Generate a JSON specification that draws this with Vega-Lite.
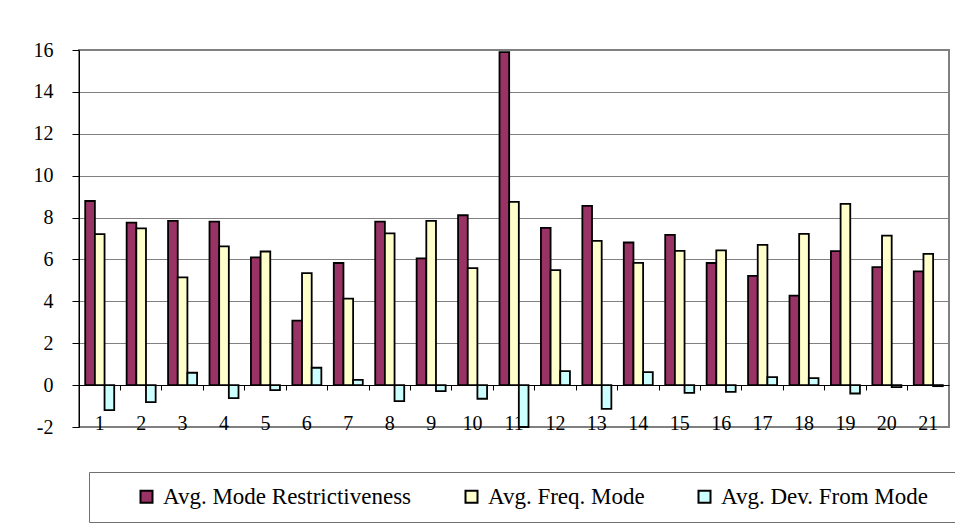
{
  "$schema": "https://vega.github.io/schema/vega-lite/v6.json",
  "width": 870,
  "height": 377,
  "autosize": "none",
  "padding": {"left": 79, "top": 50, "right": 6, "bottom": 98},
  "background": "white",
  "config": {
    "font": "Liberation Serif",
    "view": {"stroke": "#808080", "strokeWidth": 2},
    "axis": {"labelFont": "Liberation Serif"},
    "legend": {"labelFont": "Liberation Serif", "titleFont": "Liberation Serif"}
  },
  "data": {"values": [
    {"cat": 1, "series": "Avg. Mode Restrictiveness", "value": 8.79},
    {"cat": 1, "series": "Avg. Freq. Mode", "value": 7.21},
    {"cat": 1, "series": "Avg. Dev. From Mode", "value": -1.19},
    {"cat": 2, "series": "Avg. Mode Restrictiveness", "value": 7.76},
    {"cat": 2, "series": "Avg. Freq. Mode", "value": 7.48},
    {"cat": 2, "series": "Avg. Dev. From Mode", "value": -0.81},
    {"cat": 3, "series": "Avg. Mode Restrictiveness", "value": 7.84},
    {"cat": 3, "series": "Avg. Freq. Mode", "value": 5.14},
    {"cat": 3, "series": "Avg. Dev. From Mode", "value": 0.59},
    {"cat": 4, "series": "Avg. Mode Restrictiveness", "value": 7.81},
    {"cat": 4, "series": "Avg. Freq. Mode", "value": 6.62},
    {"cat": 4, "series": "Avg. Dev. From Mode", "value": -0.62},
    {"cat": 5, "series": "Avg. Mode Restrictiveness", "value": 6.10},
    {"cat": 5, "series": "Avg. Freq. Mode", "value": 6.38},
    {"cat": 5, "series": "Avg. Dev. From Mode", "value": -0.24},
    {"cat": 6, "series": "Avg. Mode Restrictiveness", "value": 3.08},
    {"cat": 6, "series": "Avg. Freq. Mode", "value": 5.35},
    {"cat": 6, "series": "Avg. Dev. From Mode", "value": 0.83},
    {"cat": 7, "series": "Avg. Mode Restrictiveness", "value": 5.83},
    {"cat": 7, "series": "Avg. Freq. Mode", "value": 4.13},
    {"cat": 7, "series": "Avg. Dev. From Mode", "value": 0.25},
    {"cat": 8, "series": "Avg. Mode Restrictiveness", "value": 7.81},
    {"cat": 8, "series": "Avg. Freq. Mode", "value": 7.24},
    {"cat": 8, "series": "Avg. Dev. From Mode", "value": -0.76},
    {"cat": 9, "series": "Avg. Mode Restrictiveness", "value": 6.05},
    {"cat": 9, "series": "Avg. Freq. Mode", "value": 7.84},
    {"cat": 9, "series": "Avg. Dev. From Mode", "value": -0.29},
    {"cat": 10, "series": "Avg. Mode Restrictiveness", "value": 8.11},
    {"cat": 10, "series": "Avg. Freq. Mode", "value": 5.59},
    {"cat": 10, "series": "Avg. Dev. From Mode", "value": -0.65},
    {"cat": 11, "series": "Avg. Mode Restrictiveness", "value": 15.9},
    {"cat": 11, "series": "Avg. Freq. Mode", "value": 8.75},
    {"cat": 11, "series": "Avg. Dev. From Mode", "value": -2.0},
    {"cat": 12, "series": "Avg. Mode Restrictiveness", "value": 7.51},
    {"cat": 12, "series": "Avg. Freq. Mode", "value": 5.49},
    {"cat": 12, "series": "Avg. Dev. From Mode", "value": 0.67},
    {"cat": 13, "series": "Avg. Mode Restrictiveness", "value": 8.56},
    {"cat": 13, "series": "Avg. Freq. Mode", "value": 6.89},
    {"cat": 13, "series": "Avg. Dev. From Mode", "value": -1.13},
    {"cat": 14, "series": "Avg. Mode Restrictiveness", "value": 6.81},
    {"cat": 14, "series": "Avg. Freq. Mode", "value": 5.84},
    {"cat": 14, "series": "Avg. Dev. From Mode", "value": 0.62},
    {"cat": 15, "series": "Avg. Mode Restrictiveness", "value": 7.17},
    {"cat": 15, "series": "Avg. Freq. Mode", "value": 6.41},
    {"cat": 15, "series": "Avg. Dev. From Mode", "value": -0.37},
    {"cat": 16, "series": "Avg. Mode Restrictiveness", "value": 5.83},
    {"cat": 16, "series": "Avg. Freq. Mode", "value": 6.43},
    {"cat": 16, "series": "Avg. Dev. From Mode", "value": -0.32},
    {"cat": 17, "series": "Avg. Mode Restrictiveness", "value": 5.22},
    {"cat": 17, "series": "Avg. Freq. Mode", "value": 6.70},
    {"cat": 17, "series": "Avg. Dev. From Mode", "value": 0.38},
    {"cat": 18, "series": "Avg. Mode Restrictiveness", "value": 4.27},
    {"cat": 18, "series": "Avg. Freq. Mode", "value": 7.22},
    {"cat": 18, "series": "Avg. Dev. From Mode", "value": 0.33},
    {"cat": 19, "series": "Avg. Mode Restrictiveness", "value": 6.40},
    {"cat": 19, "series": "Avg. Freq. Mode", "value": 8.65},
    {"cat": 19, "series": "Avg. Dev. From Mode", "value": -0.40},
    {"cat": 20, "series": "Avg. Mode Restrictiveness", "value": 5.63},
    {"cat": 20, "series": "Avg. Freq. Mode", "value": 7.14},
    {"cat": 20, "series": "Avg. Dev. From Mode", "value": -0.1},
    {"cat": 21, "series": "Avg. Mode Restrictiveness", "value": 5.43},
    {"cat": 21, "series": "Avg. Freq. Mode", "value": 6.27},
    {"cat": 21, "series": "Avg. Dev. From Mode", "value": -0.05}
  ]},
  "layer": [
    {
      "mark": {"type": "bar", "stroke": "black", "strokeWidth": 1.8},
      "encoding": {
        "x": {
          "field": "cat", "type": "ordinal",
          "scale": {"paddingInner": 0.3, "paddingOuter": 0.15},
          "axis": {"orient": "bottom", "title": null, "labelAngle": 0, "domain": false, "ticks": false, "tickSize": 0,
                   "labelFontSize": 20, "labelColor": "black", "labelPadding": -14, "grid": false}
        },
        "xOffset": {
          "field": "series", "type": "nominal",
          "sort": ["Avg. Mode Restrictiveness", "Avg. Freq. Mode", "Avg. Dev. From Mode"],
          "scale": {"paddingInner": 0, "paddingOuter": 0}
        },
        "y": {
          "field": "value", "type": "quantitative",
          "scale": {"domain": [-2, 16], "nice": false, "zero": false},
          "axis": {"title": null, "values": [-2, 0, 2, 4, 6, 8, 10, 12, 14, 16], "labelExpr": "'' + datum.value",
                   "grid": true, "gridColor": "#808080", "gridWidth": 1, "domainColor": "black", "tickColor": "black",
                   "tickSize": 7, "labelFontSize": 20, "labelColor": "black", "labelPadding": 19}
        },
        "color": {
          "field": "series", "type": "nominal",
          "scale": {"domain": ["Avg. Mode Restrictiveness", "Avg. Freq. Mode", "Avg. Dev. From Mode"],
                    "range": ["#993366", "#FFFFCC", "#CCFFFF"]},
          "legend": {
            "orient": "none", "legendX": 10, "legendY": 422, "direction": "horizontal",
            "title": " ", "titleOrient": "right", "titlePadding": 19, "titleFontSize": 23,
            "strokeColor": "#707070", "padding": 13,
            "labelFontSize": 23, "labelColor": "black", "labelLimit": 0,
            "symbolType": "square", "symbolSize": 144, "symbolStrokeColor": "black",
            "symbolStrokeWidth": 2, "symbolOpacity": 1, "symbolOffset": 33,
            "columnPadding": 15, "labelOffset": 5
          }
        }
      }
    },
    {
      "mark": {"type": "bar", "opacity": 0},
      "encoding": {
        "x": {
          "field": "cat", "type": "ordinal",
          "axis": {"orient": "bottom", "title": null, "labels": false, "offset": -42, "domainColor": "black", "domainWidth": 1,
                   "tickColor": "black", "tickSize": 5, "bandPosition": -0.214, "grid": false}
        }
      }
    }
  ],
  "resolve": {"axis": {"x": "independent"}}
}
